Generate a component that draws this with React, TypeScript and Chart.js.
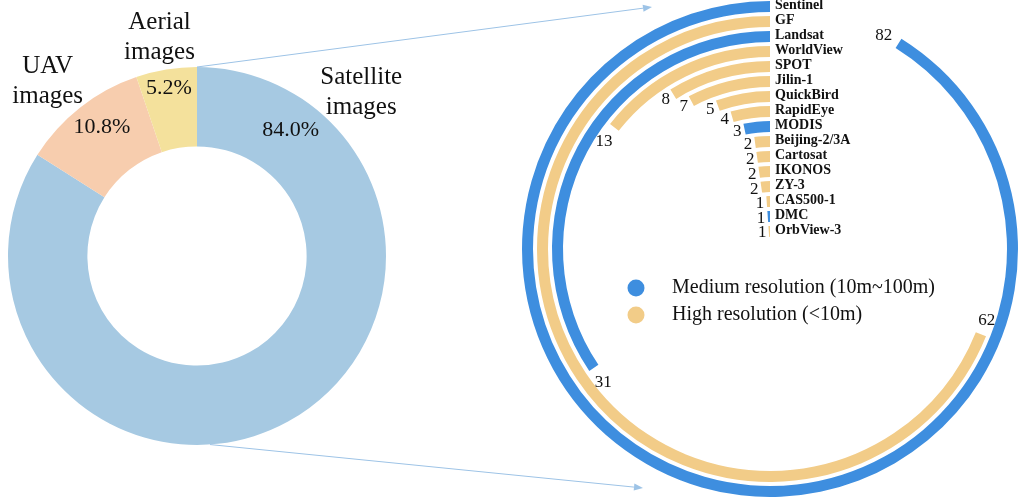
import React, { useEffect, useRef } from 'react';
import { Chart, registerables } from 'chart.js';

Chart.register(...registerables);

// ---------- data ----------
const sourceLabels = ['Satellite images', 'UAV images', 'Aerial images'];
const sourceShares = [84.0, 10.8, 5.2];
const sourceColors = ['#A6C9E2', '#F7CDAE', '#F4E19C'];

const satelliteNames = [
  'Sentinel', 'GF', 'Landsat', 'WorldView', 'SPOT', 'Jilin-1', 'QuickBird', 'RapidEye',
  'MODIS', 'Beijing-2/3A', 'Cartosat', 'IKONOS', 'ZY-3', 'CAS500-1', 'DMC', 'OrbView-3',
];
const satelliteCounts = [82, 62, 31, 13, 8, 7, 5, 4, 3, 2, 2, 2, 2, 1, 1, 1];
const satelliteResolution = [
  'Medium', 'High', 'Medium', 'High', 'High', 'High', 'High', 'High',
  'Medium', 'High', 'High', 'High', 'High', 'High', 'Medium', 'High',
];
const resolutionKeys = ['Medium', 'High'];
const legendLabels = ['Medium resolution (10m~100m)', 'High resolution (<10m)'];
const ringMax = 90;

// ---------- styles ----------
const resolutionColors: Record<string, string> = { Medium: '#3E8EDF', High: '#F2CC88' };
const SERIF = '"Liberation Serif", "Times New Roman", serif';
const ARROW_COLOR = '#9DC3E6';
// label placement: fraction along slice, distance from centre (px)
const namePlacement = [
  { frac: 0.149, r: 232 },
  { frac: 0.44, r: 230 },
  { frac: 0.48, r: 222 },
];
const pctPlacement = [
  { frac: 0.121, r: 157 },
  { frac: 0.545, r: 160 },
  { frac: 0.49, r: 170 },
];
const arrowTargets = [
  { x: 652, y: 7 },
  { x: 643, y: 488 },
];

const W = 1023;
const H = 504;

function drawArrow(ctx: CanvasRenderingContext2D, x1: number, y1: number, x2: number, y2: number) {
  const ang = Math.atan2(y2 - y1, x2 - x1);
  const len = 9;
  const half = 3.5;
  const bx = x2 - len * Math.cos(ang);
  const by = y2 - len * Math.sin(ang);
  ctx.save();
  ctx.strokeStyle = ARROW_COLOR;
  ctx.fillStyle = ARROW_COLOR;
  ctx.lineWidth = 1;
  ctx.beginPath();
  ctx.moveTo(x1, y1);
  ctx.lineTo(bx, by);
  ctx.stroke();
  ctx.beginPath();
  ctx.moveTo(x2, y2);
  ctx.lineTo(bx + half * Math.sin(ang), by - half * Math.cos(ang));
  ctx.lineTo(bx - half * Math.sin(ang), by + half * Math.cos(ang));
  ctx.closePath();
  ctx.fill();
  ctx.restore();
}

const sourceLabelPlugin = {
  id: 'sourceLabels',
  afterDraw(chart: any) {
    const ctx: CanvasRenderingContext2D = chart.ctx;
    const meta = chart.getDatasetMeta(0);
    ctx.save();
    ctx.fillStyle = '#111';
    ctx.textAlign = 'center';
    ctx.textBaseline = 'middle';
    let cx = 0, cy = 0, R = 0;
    meta.data.forEach((arc: any, i: number) => {
      const p = arc.getProps(['x', 'y', 'startAngle', 'endAngle', 'outerRadius'], true);
      cx = p.x; cy = p.y; R = p.outerRadius;
      const span = p.endAngle - p.startAngle;
      // percentage
      const pa = p.startAngle + span * pctPlacement[i].frac;
      ctx.font = `22px ${SERIF}`;
      ctx.fillText(
        sourceShares[i].toFixed(1) + '%',
        p.x + pctPlacement[i].r * Math.cos(pa),
        p.y + pctPlacement[i].r * Math.sin(pa)
      );
      // name
      const na = p.startAngle + span * namePlacement[i].frac;
      const nx = p.x + namePlacement[i].r * Math.cos(na);
      const ny = p.y + namePlacement[i].r * Math.sin(na);
      const lines = sourceLabels[i].split(' ');
      ctx.font = `25px ${SERIF}`;
      lines.forEach((ln, k) => {
        ctx.fillText(ln, nx, ny + (k - (lines.length - 1) / 2) * 30);
      });
    });
    ctx.restore();
    // connector arrows
    drawArrow(ctx, cx, cy - R, arrowTargets[0].x, arrowTargets[0].y);
    const bxp = cx + 13;
    const byp = cy + Math.sqrt(R * R - 13 * 13);
    drawArrow(ctx, bxp, byp, arrowTargets[1].x, arrowTargets[1].y);
  },
};

const ringLabelPlugin = {
  id: 'ringLabels',
  afterDraw(chart: any) {
    const ctx: CanvasRenderingContext2D = chart.ctx;
    ctx.save();
    ctx.fillStyle = '#111';
    let cx = 0, cy = 0;
    chart.data.datasets.forEach((ds: any, di: number) => {
      if (ds.ringIndex === undefined) return;
      const i = ds.ringIndex;
      const arc = chart.getDatasetMeta(di).data[1];
      const p = arc.getProps(['x', 'y', 'startAngle', 'innerRadius', 'outerRadius'], true);
      cx = p.x; cy = p.y;
      const rMid = (p.innerRadius + p.outerRadius) / 2;
      // category name
      ctx.font = `bold 14px ${SERIF}`;
      ctx.textAlign = 'left';
      ctx.textBaseline = 'middle';
      ctx.fillText(satelliteNames[i], p.x + 5, p.y - rMid - 1);
      // value
      const txt = String(satelliteCounts[i]);
      ctx.font = `17px ${SERIF}`;
      const w = ctx.measureText(txt).width;
      const a = p.startAngle;
      const tx = Math.sin(a);
      const ty = -Math.cos(a);
      const off = (w / 2) * Math.abs(tx) + 6 * Math.abs(ty) + 2 + (txt.length > 1 ? 5 : 0);
      ctx.textAlign = 'center';
      ctx.fillText(txt, p.x + rMid * Math.cos(a) + tx * off, p.y + rMid * Math.sin(a) + ty * off + 1);
    });
    // legend
    resolutionKeys.forEach((k, j) => {
      const ly = cy + 39 + j * 27;
      ctx.beginPath();
      ctx.fillStyle = resolutionColors[k];
      ctx.arc(cx - 134, ly, 8.5, 0, Math.PI * 2);
      ctx.fill();
      ctx.fillStyle = '#111';
      ctx.font = `20px ${SERIF}`;
      ctx.textAlign = 'left';
      ctx.textBaseline = 'middle';
      ctx.fillText(legendLabels[j], cx - 98, ly);
    });
    ctx.restore();
  },
};

export default function App() {
  const leftRef = useRef<HTMLCanvasElement>(null);
  const rightRef = useRef<HTMLCanvasElement>(null);

  useEffect(() => {
    const left = new Chart(leftRef.current as HTMLCanvasElement, {
      type: 'doughnut',
      data: {
        labels: sourceLabels,
        datasets: [
          {
            data: sourceShares,
            backgroundColor: sourceColors,
            borderWidth: 0,
            hoverOffset: 0,
          } as any,
        ],
      },
      options: {
        responsive: false,
        animation: false,
        devicePixelRatio: 1,
        cutout: '58%',
        rotation: 0,
        layout: { padding: { left: 8, top: 67, right: W - 386, bottom: H - 445 } },
        plugins: { legend: { display: false }, tooltip: { enabled: false } },
        events: [],
      } as any,
      plugins: [sourceLabelPlugin],
    });

    const datasets: any[] = [];
    satelliteCounts.forEach((v, i) => {
      if (i > 0) {
        datasets.push({
          data: [1],
          backgroundColor: ['rgba(0,0,0,0)'],
          weight: 4,
          borderWidth: 0,
          hoverOffset: 0,
        });
      }
      datasets.push({
        label: satelliteNames[i],
        data: [ringMax - v, v],
        backgroundColor: ['rgba(0,0,0,0)', resolutionColors[satelliteResolution[i]]],
        weight: 11,
        borderWidth: 0,
        hoverOffset: 0,
        ringIndex: i,
      });
    });

    const right = new Chart(rightRef.current as HTMLCanvasElement, {
      type: 'doughnut',
      data: { labels: ['rest', 'count'], datasets },
      options: {
        responsive: false,
        animation: false,
        devicePixelRatio: 1,
        cutout: 12,
        rotation: 0,
        layout: { padding: { left: 522, top: 1, right: 5, bottom: 7 } },
        plugins: { legend: { display: false }, tooltip: { enabled: false } },
        events: [],
      } as any,
      plugins: [ringLabelPlugin],
    });

    return () => {
      left.destroy();
      right.destroy();
    };
  }, []);

  return (
    <div style={{ position: 'fixed', left: 0, top: 0, width: W, height: H, background: '#fff', overflow: 'hidden' }}>
      <canvas ref={leftRef} width={W} height={H} style={{ position: 'absolute', left: 0, top: 0 }} />
      <canvas ref={rightRef} width={W} height={H} style={{ position: 'absolute', left: 0, top: 0 }} />
    </div>
  );
}
